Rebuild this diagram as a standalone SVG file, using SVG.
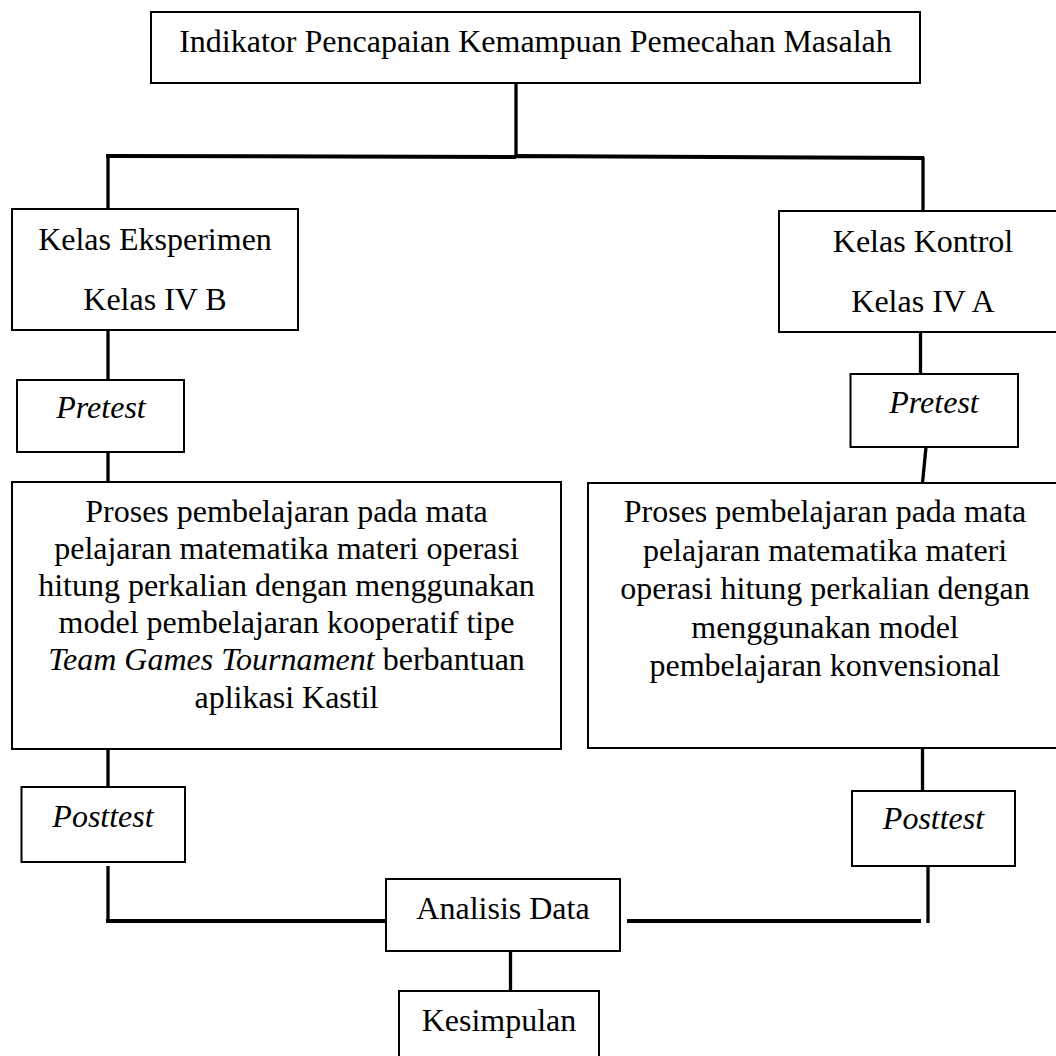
<svg xmlns="http://www.w3.org/2000/svg" width="1056" height="1056" viewBox="0 0 1056 1056">
<style>
.box{fill:#fff;stroke:#000;stroke-width:2}
.t{font-family:"Liberation Serif","Times New Roman",serif;font-size:32px;fill:#000;text-anchor:middle}
.i{font-style:italic}
.c{fill:none;stroke:#000;stroke-width:3.3;stroke-linecap:butt}
.h{fill:none;stroke:#000;stroke-width:4}
</style>
<rect width="1056" height="1056" fill="#fff"/>
<g id="connectors">
<path class="c" d="M516 83V157"/>
<path class="h" d="M106 156L516 157M516 156L924 158"/>
<path class="c" d="M108 155V209"/>
<path class="c" d="M923 157V211"/>
<path class="c" d="M108 330V380"/>
<path class="c" d="M920.5 332V374"/>
<path class="c" d="M108 452V482"/>
<path class="c" d="M926 447L922.5 483"/>
<path class="c" d="M108 749V787"/>
<path class="c" d="M922.5 748V791"/>
<path class="c" d="M108 866V921"/>
<path class="h" d="M106 921H393"/>
<path class="c" d="M928 867V923"/>
<path class="h" d="M627 921H921"/>
<path class="c" d="M510.5 951V995"/>
</g>
<g id="indikator">
<rect class="box" x="151" y="12" width="769" height="71"/>
<text class="t" x="535.5" y="52">Indikator Pencapaian Kemampuan Pemecahan Masalah</text>
</g>
<g id="kelas-eksperimen">
<rect class="box" x="12" y="209" width="286" height="121"/>
<text class="t" x="155" y="250">Kelas Eksperimen</text>
<text class="t" x="155" y="310">Kelas IV B</text>
</g>
<g id="kelas-kontrol">
<rect class="box" x="779" y="211" width="300" height="121"/>
<text class="t" x="923" y="252">Kelas Kontrol</text>
<text class="t" x="923" y="312">Kelas IV A</text>
</g>
<g id="pretest-eksperimen">
<rect class="box" x="17" y="380" width="167" height="72"/>
<text class="t i" x="101" y="418">Pretest</text>
</g>
<g id="pretest-kontrol">
<rect class="box" x="850.5" y="374" width="167.5" height="73"/>
<text class="t i" x="934" y="413">Pretest</text>
</g>
<g id="proses-eksperimen">
<rect class="box" x="12" y="482" width="549" height="267"/>
<text class="t" x="286.5" y="521.5">Proses pembelajaran pada mata</text>
<text class="t" x="286.5" y="558.7">pelajaran matematika materi operasi</text>
<text class="t" x="286.5" y="595.9">hitung perkalian dengan menggunakan</text>
<text class="t" x="286.5" y="633.1">model pembelajaran kooperatif tipe</text>
<text class="t" x="286.5" y="670.3"><tspan font-style="italic">Team Games Tournament</tspan> berbantuan</text>
<text class="t" x="286.5" y="707.5">aplikasi Kastil</text>
</g>
<g id="proses-kontrol">
<rect class="box" x="588" y="483" width="490" height="265"/>
<text class="t" x="825" y="522">Proses pembelajaran pada mata</text>
<text class="t" x="825" y="560.5">pelajaran matematika materi</text>
<text class="t" x="825" y="599">operasi hitung perkalian dengan</text>
<text class="t" x="825" y="637.5">menggunakan model</text>
<text class="t" x="825" y="676">pembelajaran konvensional</text>
</g>
<g id="posttest-eksperimen">
<rect class="box" x="21.5" y="787" width="163.5" height="75"/>
<text class="t i" x="103" y="827">Posttest</text>
</g>
<g id="posttest-kontrol">
<rect class="box" x="852" y="791" width="163" height="75"/>
<text class="t i" x="933.5" y="829">Posttest</text>
</g>
<g id="analisis-data">
<rect class="box" x="386" y="879" width="234" height="72"/>
<text class="t" x="503" y="919">Analisis Data</text>
</g>
<g id="kesimpulan">
<rect class="box" x="399" y="991" width="200" height="80"/>
<text class="t" x="499" y="1031">Kesimpulan</text>
</g>
</svg>
